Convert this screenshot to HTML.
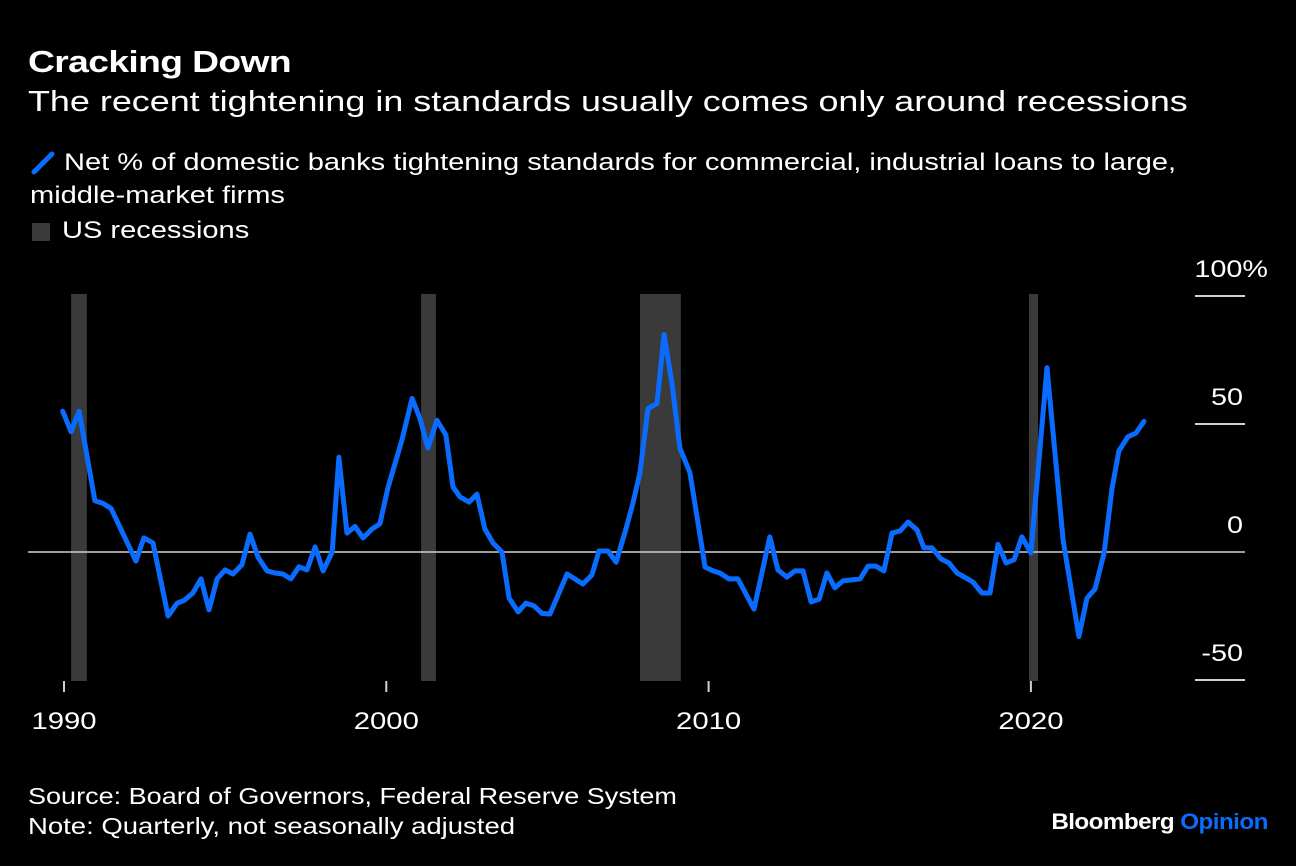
<!DOCTYPE html>
<html><head><meta charset="utf-8"><style>
html,body{margin:0;padding:0;background:#000;}
body{width:1296px;height:866px;overflow:hidden;font-family:"Liberation Sans",sans-serif;color:#fff;position:relative;}
.t{position:absolute;white-space:nowrap;transform-origin:0 0;}
</style></head><body>
<div class="t" style="left:28px;top:44px;font-size:31px;font-weight:bold;letter-spacing:-0.5px;transform:scaleX(1.2);">Cracking Down</div>
<div class="t" style="left:28px;top:86px;font-size:28.5px;transform:scaleX(1.26);">The recent tightening in standards usually comes only around recessions</div>
<div>
<svg style="position:absolute;left:30px;top:150px" width="26" height="26"><line x1="4" y1="22" x2="22" y2="4" stroke="#0a6cff" stroke-width="5" stroke-linecap="round"/></svg>
<div class="t" style="left:64px;top:149px;font-size:24px;transform:scaleX(1.21);">Net % of domestic banks tightening standards for commercial, industrial loans to large,</div>
<div class="t" style="left:30px;top:182px;font-size:24px;transform:scaleX(1.21);">middle-market firms</div>
</div>
<div>
<div style="position:absolute;left:32px;top:223px;width:18px;height:18px;background:#3a3a3a;"></div>
<div class="t" style="left:62px;top:217px;font-size:24px;transform:scaleX(1.21);">US recessions</div>
</div>
<svg id="chart" style="position:absolute;left:0;top:0" width="1296" height="866"></svg>
<div class="t" style="left:28px;top:783px;font-size:23.5px;transform:scaleX(1.15);">Source: Board of Governors, Federal Reserve System</div>
<div class="t" style="left:28px;top:813px;font-size:23.5px;transform:scaleX(1.17);">Note: Quarterly, not seasonally adjusted</div>
<div class="t" style="right:28px;top:809px;font-size:22px;font-weight:bold;letter-spacing:-0.5px;transform-origin:100% 0;transform:scaleX(1.1);">Bloomberg <span style="color:#0a6cff">Opinion</span></div>
<script>
const years=[1989.96,1990.22,1990.47,1990.96,1991.21,1991.46,1992.23,1992.48,1992.76,1993.23,1993.51,1993.72,1994.0,1994.25,1994.5,1994.75,1995.0,1995.24,1995.52,1995.77,1996.02,1996.3,1996.55,1996.79,1997.04,1997.29,1997.54,1997.79,1998.04,1998.32,1998.53,1998.78,1999.03,1999.28,1999.56,1999.8,2000.05,2000.49,2000.8,2001.05,2001.29,2001.57,2001.85,2002.07,2002.29,2002.57,2002.81,2003.06,2003.31,2003.59,2003.81,2004.09,2004.33,2004.58,2004.83,2005.08,2005.61,2005.85,2006.1,2006.38,2006.6,2006.88,2007.13,2007.41,2007.65,2007.87,2008.12,2008.4,2008.62,2008.86,2009.11,2009.42,2009.89,2010.14,2010.35,2010.63,2010.91,2011.41,2011.9,2012.15,2012.43,2012.68,2012.93,2013.18,2013.43,2013.67,2013.92,2014.17,2014.7,2014.95,2015.19,2015.44,2015.69,2015.94,2016.19,2016.47,2016.68,2016.93,2017.21,2017.46,2017.71,2017.96,2018.2,2018.48,2018.73,2018.98,2019.23,2019.48,2019.72,2020.0,2020.5,2021.0,2021.49,2021.74,2021.99,2022.27,2022.52,2022.73,2023.01,2023.26,2023.51];
const values=[55,47,55,20,19,17,-3.5,5.5,3.5,-25,-20,-19,-16,-10.5,-22.6,-10.5,-7,-8.6,-5,7,-2,-7.4,-8.2,-8.6,-10.5,-5.8,-7,2,-7.4,0,37,7.4,10,5.5,9,11,25,44,60,52,40.6,51.5,45.7,25.4,21.5,19.5,22.6,9,3.5,0,-18,-23.4,-20,-21,-24,-24.2,-8.6,-10.5,-12.5,-9,0.4,0.4,-4,7.8,19,31,56,58,85,66,40.6,31,-5.9,-7.4,-8.2,-10.5,-10.5,-22.3,5.9,-7,-9.8,-7.4,-7.4,-19.5,-18.4,-8.2,-14,-11.3,-10.5,-5.5,-5.5,-7.4,7.4,8.2,11.7,8.6,1.6,1.6,-2.7,-4.3,-8.2,-10,-11.7,-16,-16,3,-4.3,-3,5.9,-0.4,72,4.7,-33,-18,-14.5,-0.4,25,39.5,45,46.5,51];
const recStart=[1990.22,2001.08,2007.87,2019.94];
const recEnd=[1990.71,2001.54,2009.14,2020.22];
const yTicks=[100,50,0,-50];
const yTickLabels=["100%","50","0","-50"];
const xTicks=[1990,2000,2010,2020];
const NS="http://www.w3.org/2000/svg";
const svg=document.getElementById('chart');
function xs(y){return 64+(y-1990)*32.23;}
function ys(v){return 552-v*2.56;}
function mk(tag,attrs){const e=document.createElementNS(NS,tag);for(const k in attrs)e.setAttribute(k,attrs[k]);svg.appendChild(e);return e;}
recStart.forEach((s,i)=>{
  const r=mk('rect',{x:xs(s),y:ys(100)-2,width:xs(recEnd[i])-xs(s),height:ys(-50)-ys(100)+3,fill:'#3a3a3a'});
  
  
});
yTicks.forEach((t,i)=>{
  const l=mk('line',{x1:t===0?28:1195,x2:1245,y1:ys(t),y2:ys(t),stroke:'#cfcfcf','stroke-width':t===0?1.5:2});
  
  
  const ax=i===0?1268:1243, ay=ys(t)-19;
  const tx=mk('text',{x:0,y:0,'text-anchor':'end','font-size':24,fill:'#fff','font-family':'Liberation Sans, sans-serif',transform:'translate('+ax+','+ay+') scale(1.2,1)'});
  tx.textContent=yTickLabels[i];
  
  
});
xTicks.forEach(t=>{
  const l=mk('line',{x1:xs(t),x2:xs(t),y1:681,y2:692,stroke:'#cfcfcf','stroke-width':2});
  
  
  const tx=mk('text',{x:0,y:0,'text-anchor':'middle','font-size':24,fill:'#fff','font-family':'Liberation Sans, sans-serif',transform:'translate('+xs(t)+',729) scale(1.22,1)'});
  tx.textContent=t;
  
  
});
const d=years.map((y,i)=>(i?'L':'M')+xs(y).toFixed(1)+','+ys(values[i]).toFixed(1)).join(' ');
const p=mk('path',{d:d,fill:'none',stroke:'#0a6cff','stroke-width':5,'stroke-linejoin':'round','stroke-linecap':'round'});


</script>
</body></html>
